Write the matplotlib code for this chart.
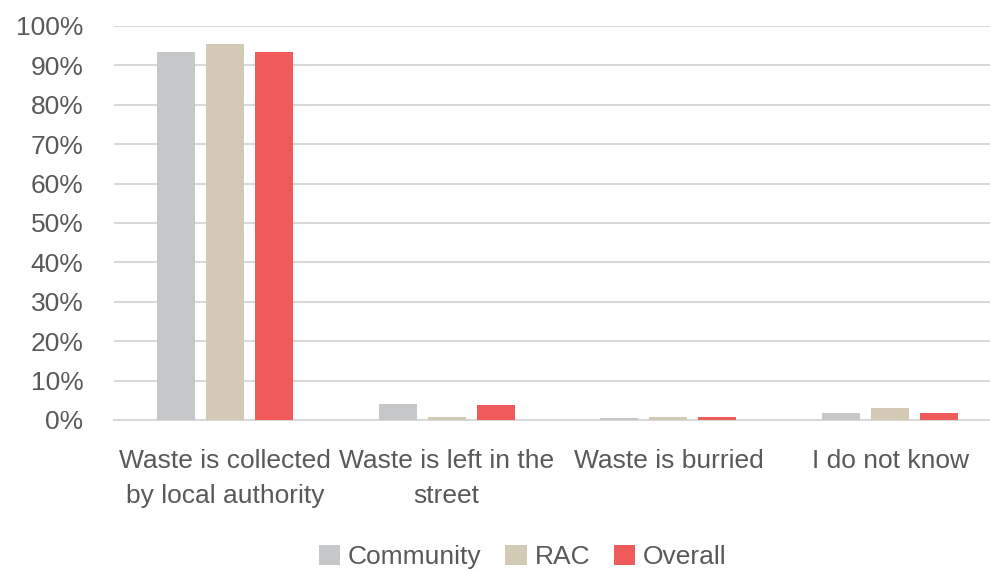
import matplotlib
matplotlib.use("Agg")
import matplotlib.pyplot as plt
from matplotlib import font_manager
import numpy as np

categories = ["Waste is collected\nby local authority", "Waste is left in the\nstreet",
              "Waste is burried", "I do not know"]
series_names = ["Community", "RAC", "Overall"]
community = [93.4, 4.1, 0.6, 1.7]
rac = [95.4, 0.8, 0.8, 3.0]
overall = [93.4, 3.8, 0.7, 1.8]
yticks = list(range(0, 101, 10))

colors = ["#C6C7C9", "#D3CAB5", "#EF5A5A"]
text_color = "#595959"
grid_color = "#D9D9D9"

installed = {f.name for f in font_manager.fontManager.ttflist}
family = "Liberation Sans Narrow" if "Liberation Sans Narrow" in installed else "Liberation Sans"
plt.rcParams["font.family"] = family

fig = plt.figure(figsize=(9.9, 5.71), dpi=100)
ax = fig.add_axes([0.1152, 0.2645, 0.896, 0.69])

x = np.arange(len(categories))
offset = 0.221
width = 0.171
for i, (name, vals) in enumerate(zip(series_names, [community, rac, overall])):
    ax.bar(x + (i - 1) * offset, vals, width, color=colors[i], label=name, zorder=3)

ax.set_xlim(-0.5, len(categories) - 0.5)
ax.set_ylim(0, 100)
ax.set_yticks(yticks)
ax.set_yticklabels([f"{t}%" for t in yticks])
ax.set_xticks(x)
ax.set_xticklabels(categories, linespacing=1.55)
ax.tick_params(axis="y", length=0, pad=22, labelsize=19, labelcolor=text_color)
ax.tick_params(axis="x", length=0, pad=21, labelsize=19, labelcolor=text_color)
ax.grid(axis="y", color=grid_color, linewidth=1.5, zorder=0)
for s in ["top", "right", "left"]:
    ax.spines[s].set_visible(False)
ax.spines["bottom"].set_color(grid_color)
ax.spines["bottom"].set_linewidth(1.5)

fig.legend(loc="center", bbox_to_anchor=(0.528, 0.025), ncol=3, frameon=False,
           fontsize=19, labelcolor=text_color, handlelength=0.8, handleheight=0.8,
           handletextpad=0.3, columnspacing=0.9)

fig.savefig("out.png", dpi=100)
